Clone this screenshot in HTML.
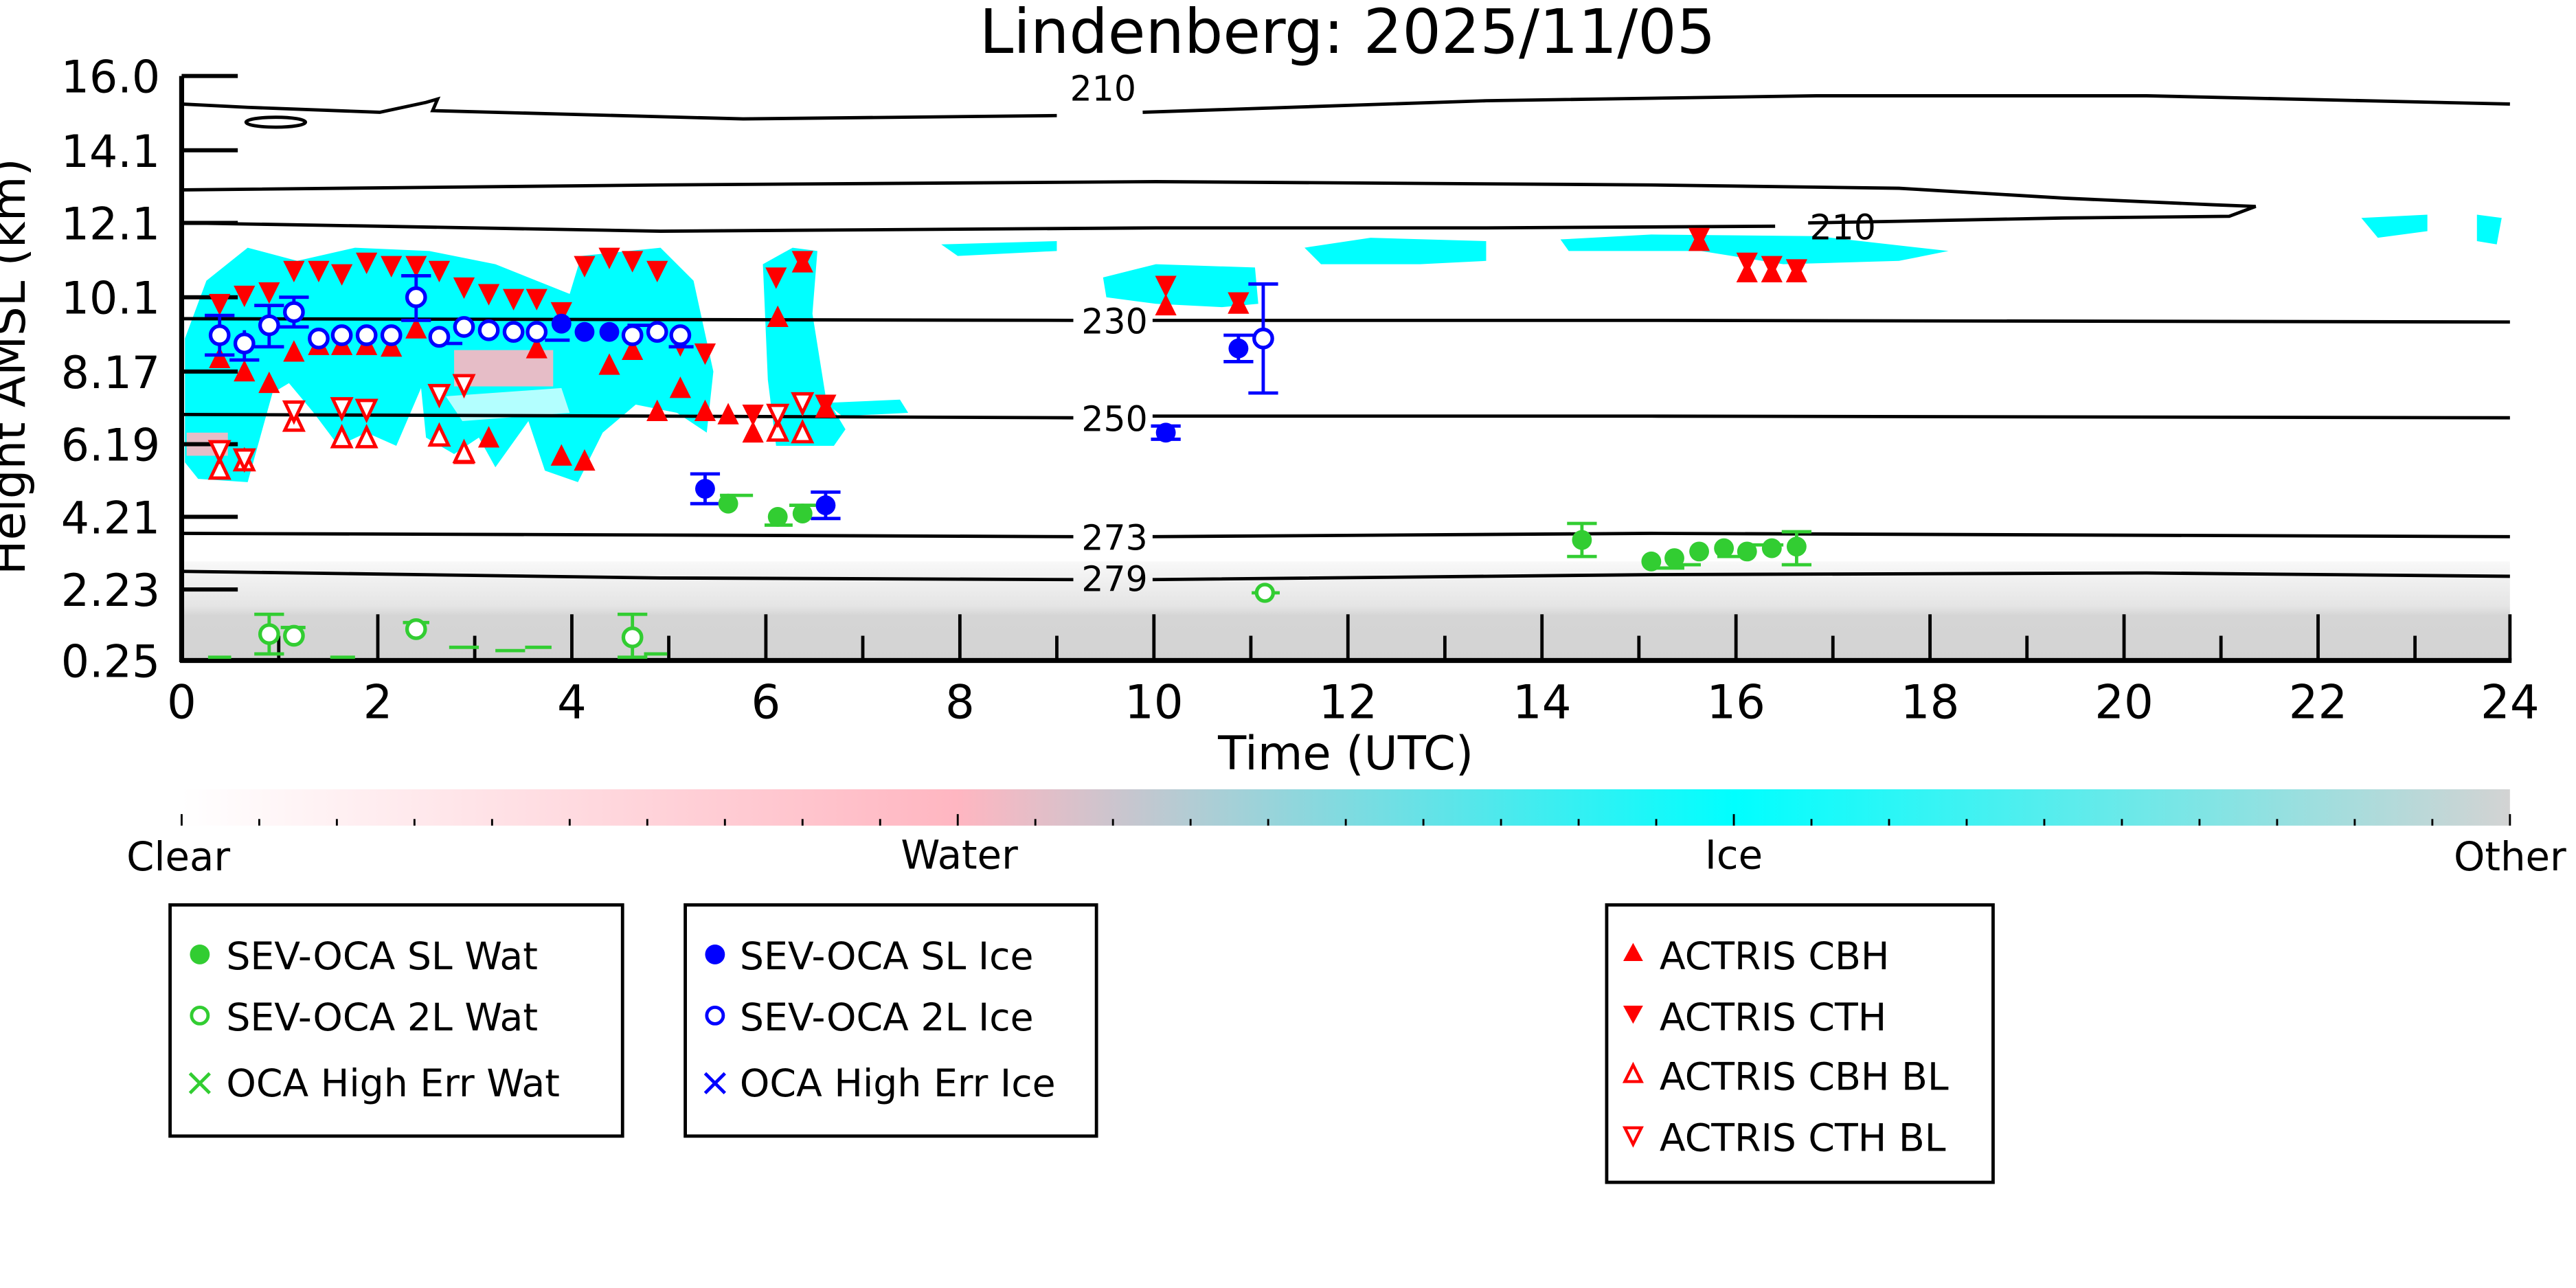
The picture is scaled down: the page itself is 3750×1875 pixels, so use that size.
<!DOCTYPE html>
<html><head><meta charset="utf-8"><style>
html,body{margin:0;padding:0;background:#fff}
svg{display:block}
text{font-family:"DejaVu Sans","Liberation Sans",sans-serif}
</style></head><body>
<svg width="3750" height="1875" viewBox="0 0 1560 780" xmlns="http://www.w3.org/2000/svg">
<defs>
<linearGradient id="cb" x1="0" x2="1" y1="0" y2="0">
<stop offset="0" stop-color="#ffffff"/>
<stop offset="0.333" stop-color="#ffb6c1"/>
<stop offset="0.667" stop-color="#00ffff"/>
<stop offset="1" stop-color="#d3d3d3"/>
</linearGradient>
<linearGradient id="gb" x1="0" x2="0" y1="0" y2="1">
<stop offset="0" stop-color="#d3d3d3" stop-opacity="0.15"/>
<stop offset="0.45" stop-color="#d3d3d3" stop-opacity="0.6"/>
<stop offset="0.55" stop-color="#d3d3d3" stop-opacity="0.95"/>
<stop offset="1" stop-color="#d3d3d3" stop-opacity="1"/>
</linearGradient>
<g id="tu"><polygon points="0,-8 -6.5,5 6.5,5" fill="#ff0000"/></g>
<g id="td"><polygon points="0,8 -6.5,-5 6.5,-5" fill="#ff0000"/></g>
<g id="tuo"><polygon points="0,-7 -5.5,4.5 5.5,4.5" fill="#fff" stroke="#ff0000" stroke-width="2"/></g>
<g id="tdo"><polygon points="0,7 -5.5,-4.5 5.5,-4.5" fill="#fff" stroke="#ff0000" stroke-width="2"/></g>
</defs>
<rect width="1560" height="780" fill="#fff"/>
<text x="816" y="32" font-size="37" text-anchor="middle">Lindenberg: 2025/11/05</text>

<rect x="111" y="340" width="1409" height="60" fill="url(#gb)"/>

<g fill="#00ffff">
<polygon points="112,205 125,170 150,150 180,158 215,150 260,152 300,160 345,178 352,155 400,150 420,170 432,225 428,262 410,250 385,245 365,262 350,292 330,285 320,255 300,283 290,265 275,275 258,265 255,235 240,270 222,262 205,270 190,250 175,232 165,238 150,292 120,290 112,280"/>
<polygon points="462,160 480,150 495,152 492,190 500,240 512,260 505,270 470,270 465,230"/>
<polygon points="500,244 545,242 550,250 510,252"/>
<polygon points="668,168 700,160 760,162 762,184 740,186 700,184 670,180"/>
<polygon points="790,150 830,144 900,146 900,158 860,160 800,160"/>
<polygon points="945,145 1000,142 1100,143 1180,152 1150,158 1080,160 1030,152 950,152"/>
<polygon points="1430,132 1470,130 1470,140 1440,144"/>
<polygon points="1500,130 1515,132 1512,148 1500,146"/>
<polygon points="570,148 640,146 640,152 580,155"/>
</g>
<g fill="#ffb6c1" opacity="0.9">
<rect x="275" y="212" width="60" height="22"/>
<rect x="113" y="262" width="25" height="14"/>
</g>
<g fill="#fff" opacity="0.7">
<polygon points="270,240 340,235 345,250 280,255"/>
</g>

<g fill="none" stroke="#000" stroke-width="2">
<path d="M110,63 L150,65 L230,68 L258,62 L265,60 L262,67 L450,72 L640,70 M692,68 L900,61 L1100,58 L1300,58 L1520,63"/>
<ellipse cx="167" cy="74" rx="18" ry="3"/>
<path d="M110,115 L400,112 L700,110 L1000,112 L1150,114 L1250,120 L1340,124 L1366,125 L1350,131 L1250,132 L1150,134 L1095,135 M1075,137 L900,138 L700,138 L400,140 L230,137 L110,135"/>
<path d="M110,193 L650,194 M698,194 L1000,194 L1520,195"/>
<path d="M110,251 L400,252 L650,253 M698,252 L1000,252 L1520,253"/>
<path d="M110,323 L400,324 L650,325 M698,325 L1000,323 L1520,325"/>
<path d="M110,346 L400,350 L650,351 M698,351 L1000,348 L1300,347 L1520,349"/>
</g>
<g font-size="21" text-anchor="middle">
<text x="668" y="61">210</text>
<text x="1116" y="145">210</text>
<text x="675" y="202">230</text>
<text x="675" y="261">250</text>
<text x="675" y="333">273</text>
<text x="675" y="358">279</text>
</g>

<g stroke="#000" stroke-width="3">
<line x1="110" y1="46" x2="110" y2="401"/>
<line x1="109" y1="400" x2="1521" y2="400"/>
</g>
<g stroke="#000" stroke-width="2.5">
<line x1="110" y1="46" x2="144" y2="46"/><line x1="110" y1="91" x2="144" y2="91"/>
<line x1="110" y1="135" x2="144" y2="135"/><line x1="110" y1="180" x2="144" y2="180"/>
<line x1="110" y1="225" x2="144" y2="225"/><line x1="110" y1="269" x2="144" y2="269"/>
<line x1="110" y1="313" x2="144" y2="313"/><line x1="110" y1="357" x2="144" y2="357"/>
</g>
<g stroke="#000" stroke-width="2">
<path d="M228.8,400V372M346.3,400V372M463.8,400V372M581.3,400V372M698.8,400V372M816.3,400V372M933.8,400V372M1051.3,400V372M1168.8,400V372M1286.3,400V372M1403.8,400V372M1520,400V372"/>
<path d="M168.8,400V385M287.5,400V385M405,400V385M522.5,400V385M640,400V385M757.5,400V385M875,400V385M992.5,400V385M1110,400V385M1227.5,400V385M1345,400V385M1462.5,400V385"/>
</g>
<g font-size="27" text-anchor="end">
<text x="97" y="56">16.0</text><text x="97" y="101">14.1</text><text x="97" y="145">12.1</text>
<text x="97" y="190">10.1</text><text x="97" y="235">8.17</text><text x="97" y="279">6.19</text>
<text x="97" y="323">4.21</text><text x="97" y="367">2.23</text><text x="97" y="410">0.25</text>
</g>
<g font-size="28" text-anchor="middle">
<text x="110" y="435">0</text><text x="228.8" y="435">2</text><text x="346.3" y="435">4</text>
<text x="463.8" y="435">6</text><text x="581.3" y="435">8</text><text x="698.8" y="435">10</text>
<text x="816.3" y="435">12</text><text x="933.8" y="435">14</text><text x="1051.3" y="435">16</text>
<text x="1168.8" y="435">18</text><text x="1286.3" y="435">20</text><text x="1403.8" y="435">22</text>
<text x="1520" y="435">24</text>
<text x="815" y="466">Time (UTC)</text>
</g>
<text transform="translate(15,222) rotate(-90)" font-size="28" text-anchor="middle">Height AMSL (km)</text>

<g>
<use href="#td" x="133" y="183"/><use href="#td" x="148" y="178"/><use href="#td" x="163" y="176"/>
<use href="#td" x="178" y="163"/><use href="#td" x="193" y="163"/><use href="#td" x="207" y="165"/>
<use href="#td" x="222" y="158"/><use href="#td" x="237" y="160"/><use href="#td" x="252" y="160"/>
<use href="#td" x="266" y="163"/><use href="#td" x="281" y="173"/><use href="#td" x="296" y="177"/>
<use href="#td" x="311" y="180"/><use href="#td" x="325" y="180"/><use href="#td" x="340" y="188"/>
<use href="#td" x="354" y="160"/><use href="#td" x="369" y="155"/><use href="#td" x="383" y="157"/>
<use href="#td" x="398" y="163"/><use href="#td" x="412" y="208"/><use href="#td" x="427" y="213"/>
<use href="#td" x="456" y="250"/><use href="#td" x="470" y="167"/><use href="#td" x="486" y="157"/><use href="#td" x="500" y="244"/>
<use href="#td" x="706" y="172"/><use href="#td" x="750" y="182"/><use href="#td" x="1029" y="143"/>
<use href="#td" x="1058" y="158"/><use href="#td" x="1073" y="160"/><use href="#td" x="1088" y="162"/>
<use href="#tu" x="133" y="218"/><use href="#tu" x="148" y="226"/><use href="#tu" x="163" y="233"/>
<use href="#tu" x="178" y="214"/><use href="#tu" x="193" y="210"/><use href="#tu" x="207" y="210"/>
<use href="#tu" x="222" y="210"/><use href="#tu" x="237" y="211"/><use href="#tu" x="252" y="200"/>
<use href="#tu" x="281" y="276"/><use href="#tu" x="296" y="266"/><use href="#tu" x="325" y="212"/>
<use href="#tu" x="340" y="277"/><use href="#tu" x="354" y="280"/><use href="#tu" x="369" y="222"/>
<use href="#tu" x="383" y="213"/><use href="#tu" x="398" y="250"/><use href="#tu" x="412" y="236"/>
<use href="#tu" x="427" y="250"/><use href="#tu" x="441" y="252"/><use href="#tu" x="456" y="263"/><use href="#tu" x="471" y="193"/>
<use href="#tu" x="486" y="160"/><use href="#tu" x="500" y="248"/><use href="#tu" x="706" y="186"/>
<use href="#tu" x="750" y="185"/><use href="#tu" x="1029" y="147"/><use href="#tu" x="1058" y="166"/>
<use href="#tu" x="1073" y="166"/><use href="#tu" x="1088" y="166"/>
<use href="#tuo" x="133" y="285"/><use href="#tuo" x="148" y="280"/><use href="#tuo" x="178" y="256"/>
<use href="#tuo" x="207" y="266"/><use href="#tuo" x="222" y="266"/><use href="#tuo" x="266" y="265"/>
<use href="#tuo" x="281" y="275"/><use href="#tuo" x="471" y="262"/><use href="#tuo" x="486" y="263"/>
<use href="#tdo" x="133" y="272"/><use href="#tdo" x="148" y="277"/><use href="#tdo" x="178" y="248"/>
<use href="#tdo" x="207" y="246"/><use href="#tdo" x="222" y="247"/><use href="#tdo" x="266" y="238"/>
<use href="#tdo" x="281" y="232"/><use href="#tdo" x="471" y="250"/><use href="#tdo" x="486" y="243"/>
</g>

<g stroke="#0000ff" stroke-width="2">
<path d="M133,191V215M124,191H142M124,215H142 M163,185V210M154,185H172M154,210H172 M178,180V198M169,180H187M169,198H187 M252,167V194M243,167H261M243,194H261 M148,200V218M139,218H157 M765,172V238M756,172H774M756,238H774 M427,287V305M418,287H436M418,305H436 M500,298V314M491,298H509M491,314H509 M750,203V219M741,203H759M741,219H759 M706,258V266M697,258H715M697,266H715 M380,197H400M405,210H420M266,208H280M330,206H345"/>
</g>
<g fill="#fff" stroke="#0000ff" stroke-width="2.2">
<circle cx="133" cy="203" r="5.5"/><circle cx="148" cy="208" r="5.5"/><circle cx="163" cy="197" r="5.5"/>
<circle cx="178" cy="189" r="5.5"/><circle cx="193" cy="205" r="5.5"/><circle cx="207" cy="203" r="5.5"/>
<circle cx="222" cy="203" r="5.5"/><circle cx="237" cy="203" r="5.5"/><circle cx="252" cy="180" r="5.5"/>
<circle cx="266" cy="204" r="5.5"/><circle cx="281" cy="198" r="5.5"/><circle cx="296" cy="200" r="5.5"/>
<circle cx="311" cy="201" r="5.5"/><circle cx="325" cy="201" r="5.5"/><circle cx="383" cy="203" r="5.5"/>
<circle cx="398" cy="201" r="5.5"/><circle cx="412" cy="203" r="5.5"/><circle cx="765" cy="205" r="5.5"/>
</g>
<g fill="#0000ff">
<circle cx="340" cy="196" r="6"/><circle cx="354" cy="201" r="6"/><circle cx="369" cy="201" r="6"/>
<circle cx="427" cy="296" r="6"/><circle cx="500" cy="306" r="6"/><circle cx="706" cy="262" r="6"/>
<circle cx="750" cy="211" r="6"/>
</g>

<g stroke="#32cd32" stroke-width="2">
<path d="M163,372V396M154,372H172M154,396H172 M383,372V398M374,372H392M374,398H392 M958,317V337M949,317H967M949,337H967 M1088,322V342M1079,322H1097M1079,342H1097 M1000,344H1020M1014,342H1030M1040,337H1060M1060,330H1080 M436,300H456M463,318H480M478,306H494M758,359H775M170,380H185M244,377H260 M126,398H140M200,398H215M272,392H290M300,394H318M318,392H334M390,396H404"/>
</g>
<g fill="#32cd32">
<circle cx="441" cy="305" r="6"/><circle cx="471" cy="313" r="6"/><circle cx="486" cy="311" r="6"/>
<circle cx="958" cy="327" r="6"/><circle cx="1000" cy="340" r="6"/><circle cx="1014" cy="338" r="6"/>
<circle cx="1029" cy="334" r="6"/><circle cx="1044" cy="332" r="6"/><circle cx="1058" cy="334" r="6"/>
<circle cx="1073" cy="332" r="6"/><circle cx="1088" cy="331" r="6"/>
</g>
<g fill="#fff" stroke="#32cd32" stroke-width="2.2">
<circle cx="163" cy="384" r="5.5"/><circle cx="178" cy="385" r="5.5"/><circle cx="252" cy="381" r="5.5"/>
<circle cx="383" cy="386" r="5.5"/><circle cx="766" cy="359" r="5"/>
</g>

<rect x="110" y="478" width="1410" height="22" fill="url(#cb)"/>
<g stroke="#000" stroke-width="1.2">
<path d="M110,500V493M157,500V496M204,500V496M251,500V496M298,500V496M345,500V496M392,500V496M439,500V496M486,500V496M533,500V496M580,500V493M627,500V496M674,500V496M721,500V496M768,500V496M815,500V496M862,500V496M909,500V496M956,500V496M1003,500V496M1050,500V493M1097,500V496M1144,500V496M1191,500V496M1238,500V496M1285,500V496M1332,500V496M1379,500V496M1426,500V496M1473,500V496M1520,500V493"/>
</g>
<g font-size="24" text-anchor="middle">
<text x="108" y="527">Clear</text><text x="581" y="526">Water</text>
<text x="1050" y="526">Ice</text><text x="1520" y="527">Other</text>
</g>

<g fill="none" stroke="#000" stroke-width="2">
<rect x="103" y="548" width="274" height="140"/>
<rect x="415" y="548" width="249" height="140"/>
<rect x="973" y="548" width="234" height="168"/>
</g>
<g font-size="23">
<circle cx="121" cy="578" r="6" fill="#32cd32"/><text x="137" y="587">SEV-OCA SL Wat</text>
<circle cx="121" cy="615" r="5" fill="#fff" stroke="#32cd32" stroke-width="2"/><text x="137" y="624">SEV-OCA 2L Wat</text>
<path d="M115,650L127,662M127,650L115,662" stroke="#32cd32" stroke-width="2"/><text x="137" y="664">OCA High Err Wat</text>
<circle cx="433" cy="578" r="6" fill="#0000ff"/><text x="448" y="587">SEV-OCA SL Ice</text>
<circle cx="433" cy="615" r="5" fill="#fff" stroke="#0000ff" stroke-width="2"/><text x="448" y="624">SEV-OCA 2L Ice</text>
<path d="M427,650L439,662M439,650L427,662" stroke="#0000ff" stroke-width="2"/><text x="448" y="664">OCA High Err Ice</text>
<polygon points="989,571 983,582 995,582" fill="#ff0000"/><text x="1005" y="587">ACTRIS CBH</text>
<polygon points="989,620 983,609 995,609" fill="#ff0000"/><text x="1005" y="624">ACTRIS CTH</text>
<polygon points="989,645 984,655 994,655" fill="#fff" stroke="#ff0000" stroke-width="1.8"/><text x="1005" y="660">ACTRIS CBH BL</text>
<polygon points="989,693 984,683 994,683" fill="#fff" stroke="#ff0000" stroke-width="1.8"/><text x="1005" y="697">ACTRIS CTH BL</text>
</g>
</svg>
</body></html>
